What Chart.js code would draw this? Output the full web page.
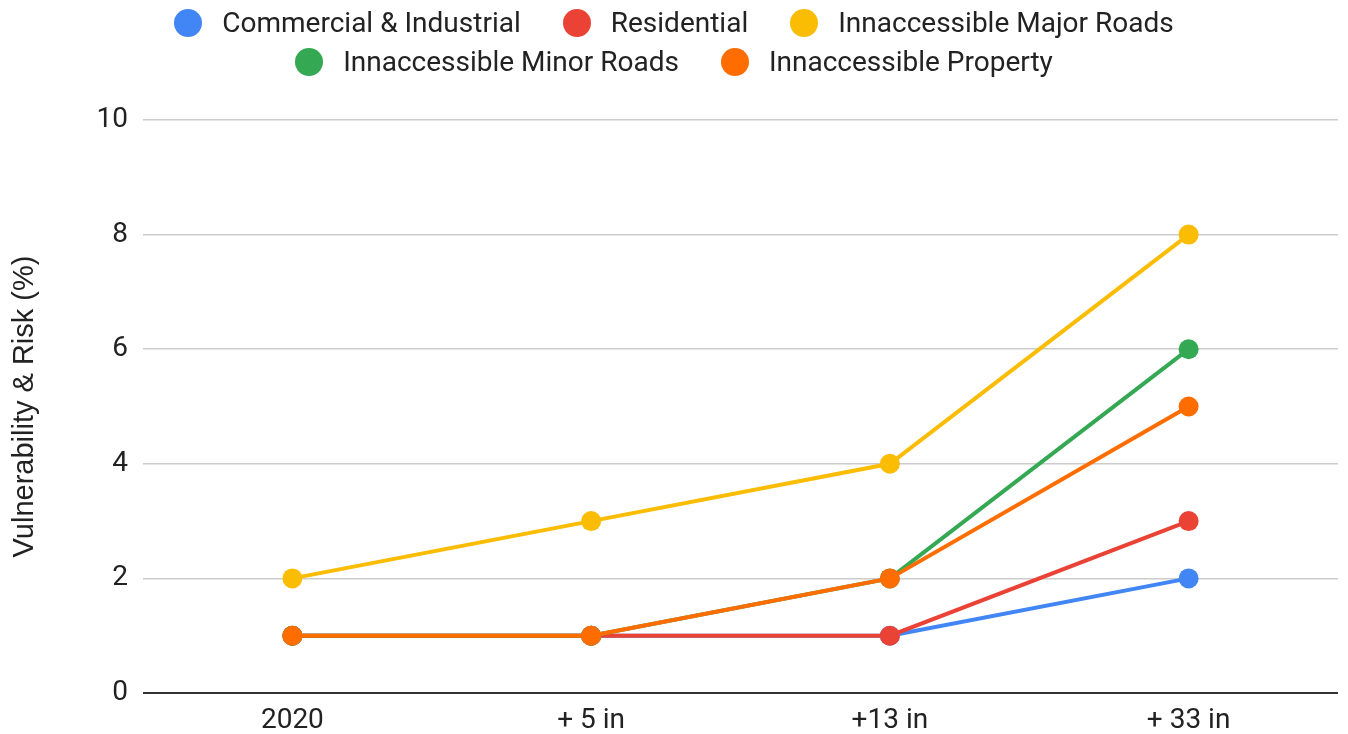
<!DOCTYPE html>
<html>
<head>
<meta charset="utf-8">
<script src="https://cdn.jsdelivr.net/npm/chart.js@4"></script>
<style>
    body { margin: 0; background: #fff; }
    #wrap { position: relative; width: 1348px; height: 734px; }
    #legend {
        position: absolute; top: 3px; left: 0; width: 1348px;
        display: flex; flex-wrap: wrap; justify-content: center;
        column-gap: 42px; padding: 0 130px; box-sizing: border-box;
        font-family: Roboto, Arial, sans-serif; font-size: 28px; color: #222;
    }
    .item { display: flex; align-items: center; height: 39px; white-space: nowrap; }
    .dot { width: 28px; height: 28px; border-radius: 50%; margin-right: 20px; }
</style>
</head>
<body>
<div id="wrap">
    <canvas id="chart" width="1348" height="734"></canvas>
    <div id="legend"></div>
</div>
<script>
const categories = ['2020', '+ 5 in', '+13 in', '+ 33 in'];

const seriesNames = ['Commercial & Industrial', 'Residential', 'Innaccessible Major Roads',
    'Innaccessible Minor Roads', 'Innaccessible Property'];
const seriesColors = ['#4285F4', '#EA4335', '#FBBC04', '#34A853', '#FF6D01'];

const commercial = [1, 1, 1, 2];
const residential = [1, 1, 1, 3];
const majorRoads = [2, 3, 4, 8];
const minorRoads = [1, 1, 2, 6];
const property = [1, 1, 2, 5];

const yMin = 0;
const yMax = 10;
const yStep = 2;

const allSeries = [commercial, residential, majorRoads, minorRoads, property];

const ctx = document.getElementById('chart').getContext('2d');
const chart = new Chart(ctx, {
    type: 'line',
    data: {
        labels: categories,
        datasets: allSeries.map((values, i) => ({
            label: seriesNames[i],
            data: values,
            borderColor: seriesColors[i],
            backgroundColor: seriesColors[i],
            borderWidth: 4,
            pointRadius: 10,
            pointHoverRadius: 10,
            pointBorderWidth: 0,
            tension: 0,
            order: allSeries.length - i   // later series drawn on top
        }))
    },
    options: {
        responsive: false,
        animation: false,
        layout: { padding: { top: 120, right: 4, left: 0, bottom: -15 } },
        plugins: {
            legend: { display: false },
            tooltip: { enabled: false }
        },
        scales: {
            x: {
                offset: true,
                grid: { display: false, drawTicks: false },
                border: { display: false },
                ticks: {
                    padding: 14,
                    color: '#222',
                    font: { family: 'Roboto, Arial, sans-serif', size: 28, lineHeight: 1 }
                }
            },
            y: {
                min: yMin,
                max: yMax,
                afterFit: scale => { scale.width = 143; },
                grid: {
                    drawTicks: false,
                    color: c => c.tick.value === 0 ? '#333' : '#ccc',
                    lineWidth: c => c.tick.value === 0 ? 2 : 1.5
                },
                border: { display: false },
                ticks: {
                    stepSize: yStep,
                    padding: 15,
                    color: '#222',
                    font: { family: 'Roboto, Arial, sans-serif', size: 28 }
                },
                title: {
                    display: true,
                    text: 'Vulnerability & Risk (%)',
                    color: '#222',
                    padding: { top: 8, bottom: 4 },
                    font: { family: '"Liberation Sans", Arial, sans-serif', size: 29 }
                }
            }
        }
    }
});

// legend built from the chart's own datasets
const legend = document.getElementById('legend');
chart.data.datasets.forEach(ds => {
    const item = document.createElement('div');
    item.className = 'item';
    const dot = document.createElement('span');
    dot.className = 'dot';
    dot.style.background = ds.borderColor;
    const text = document.createElement('span');
    text.textContent = ds.label;
    item.appendChild(dot);
    item.appendChild(text);
    legend.appendChild(item);
});
</script>
</body>
</html>
